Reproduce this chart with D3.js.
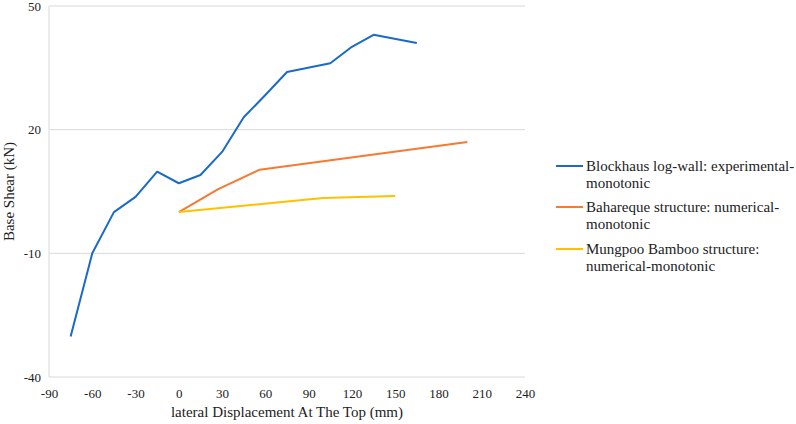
<!DOCTYPE html>
<html>
<head>
<meta charset="utf-8">
<script src="https://cdn.jsdelivr.net/npm/d3@7"></script>
<style>
  body { margin: 0; background: #fff; }
  svg text { font-family: "Liberation Serif", "Times New Roman", Times, "DejaVu Serif", serif; fill: #222; }
</style>
</head>
<body>
<div id="chart-area"></div>
<script>
// data
const blockhausX = [-75, -60, -45, -30, -15, 0, 15, 30, 45, 60, 75, 105, 120, 135, 165];
const blockhausY = [-30.2, -10, 0, 3.7, 9.8, 7, 9, 14.6, 23, 28.4, 34, 36.1, 40.1, 43, 41];
const bahareqX = [0, 27, 56, 200];
const bahareqY = [0, 5.5, 10.3, 17];
const mungpooX = [0, 100, 150];
const mungpooY = [0, 3.4, 3.9];

const xTicks = [-90, -60, -30, 0, 30, 60, 90, 120, 150, 180, 210, 240];
const yTicks = [-40, -10, 20, 50];

const seriesNames = [
  ['Blockhaus log-wall: experimental-', 'monotonic'],
  ['Bahareque structure: numerical-', 'monotonic'],
  ['Mungpoo Bamboo structure:', 'numerical-monotonic']
];
const colors = ['#1a6ac9', '#f57a32', '#ffc000'];

const series = [
  blockhausX.map((d, i) => ({ x: d, y: blockhausY[i] })),
  bahareqX.map((d, i) => ({ x: d, y: bahareqY[i] })),
  mungpooX.map((d, i) => ({ x: d, y: mungpooY[i] }))
];

const margin = { top: 6, right: 271, bottom: 47, left: 49 };
const W = 796, H = 424;
const width = W - margin.left - margin.right;
const height = H - margin.top - margin.bottom;
const serif = '"Liberation Serif", "Times New Roman", Times, "DejaVu Serif", serif';

const svg = d3.select('#chart-area')
  .append('svg')
    .attr('width', W)
    .attr('height', H);

const g = svg.append('g')
  .attr('transform', 'translate(' + margin.left + ',' + margin.top + ')');

const x = d3.scaleLinear().domain([-90, 240]).range([0, width]);
const y = d3.scaleLinear().domain([-40, 50]).range([height, 0]);

// grid
g.selectAll('.grid')
  .data(yTicks)
  .enter().append('line')
    .attr('x1', 0)
    .attr('x2', width)
    .attr('y1', d => y(d))
    .attr('y2', d => y(d))
    .attr('stroke', '#d9d9d9')
    .attr('stroke-width', 1);

g.append('line')
  .attr('x1', 0).attr('x2', 0)
  .attr('y1', 0).attr('y2', height)
  .attr('stroke', '#d9d9d9');

// axes
const xAxis = g.append('g')
  .attr('transform', 'translate(0,' + height + ')')
  .call(d3.axisBottom(x).tickValues(xTicks).tickFormat(d => String(d)).tickSize(0).tickPadding(12));
xAxis.attr('font-family', serif).attr('font-size', 13);
xAxis.select('.domain').remove();

const yAxis = g.append('g')
  .call(d3.axisLeft(y).tickValues(yTicks).tickFormat(d => String(d)).tickSize(0).tickPadding(8));
yAxis.attr('font-family', serif).attr('font-size', 13);
yAxis.select('.domain').remove();

// lines
const line = d3.line().x(d => x(d.x)).y(d => y(d.y));

g.selectAll('.series')
  .data(series)
  .enter().append('path')
    .attr('d', line)
    .attr('fill', 'none')
    .attr('stroke', (d, i) => colors[i])
    .attr('stroke-width', 2)
    .attr('stroke-linejoin', 'round');

// axis titles
svg.append('text')
  .attr('x', margin.left + width / 2)
  .attr('y', 417)
  .attr('text-anchor', 'middle')
  .attr('font-family', serif)
  .attr('font-size', 15)
  .text('lateral Displacement At The Top (mm)');

svg.append('text')
  .attr('transform', 'translate(14,' + (margin.top + height / 2) + ') rotate(-90)')
  .attr('text-anchor', 'middle')
  .attr('font-family', serif)
  .attr('font-size', 15)
  .text('Base Shear (kN)');

// legend
const legendY = [166, 207, 249];
const legend = svg.selectAll('.legend')
  .data(seriesNames)
  .enter().append('g')
    .attr('transform', (d, i) => 'translate(556,' + legendY[i] + ')');

legend.append('line')
  .attr('x1', 0).attr('x2', 27)
  .attr('stroke', (d, i) => colors[i])
  .attr('stroke-width', 2);

legend.append('text')
  .attr('x', 30)
  .attr('y', 5)
  .attr('font-family', serif)
  .attr('font-size', 15)
  .selectAll('tspan')
  .data(d => d)
  .enter().append('tspan')
    .attr('x', 30)
    .attr('dy', (d, i) => i === 0 ? 0 : 17)
    .text(d => d);
</script>
</body>
</html>
